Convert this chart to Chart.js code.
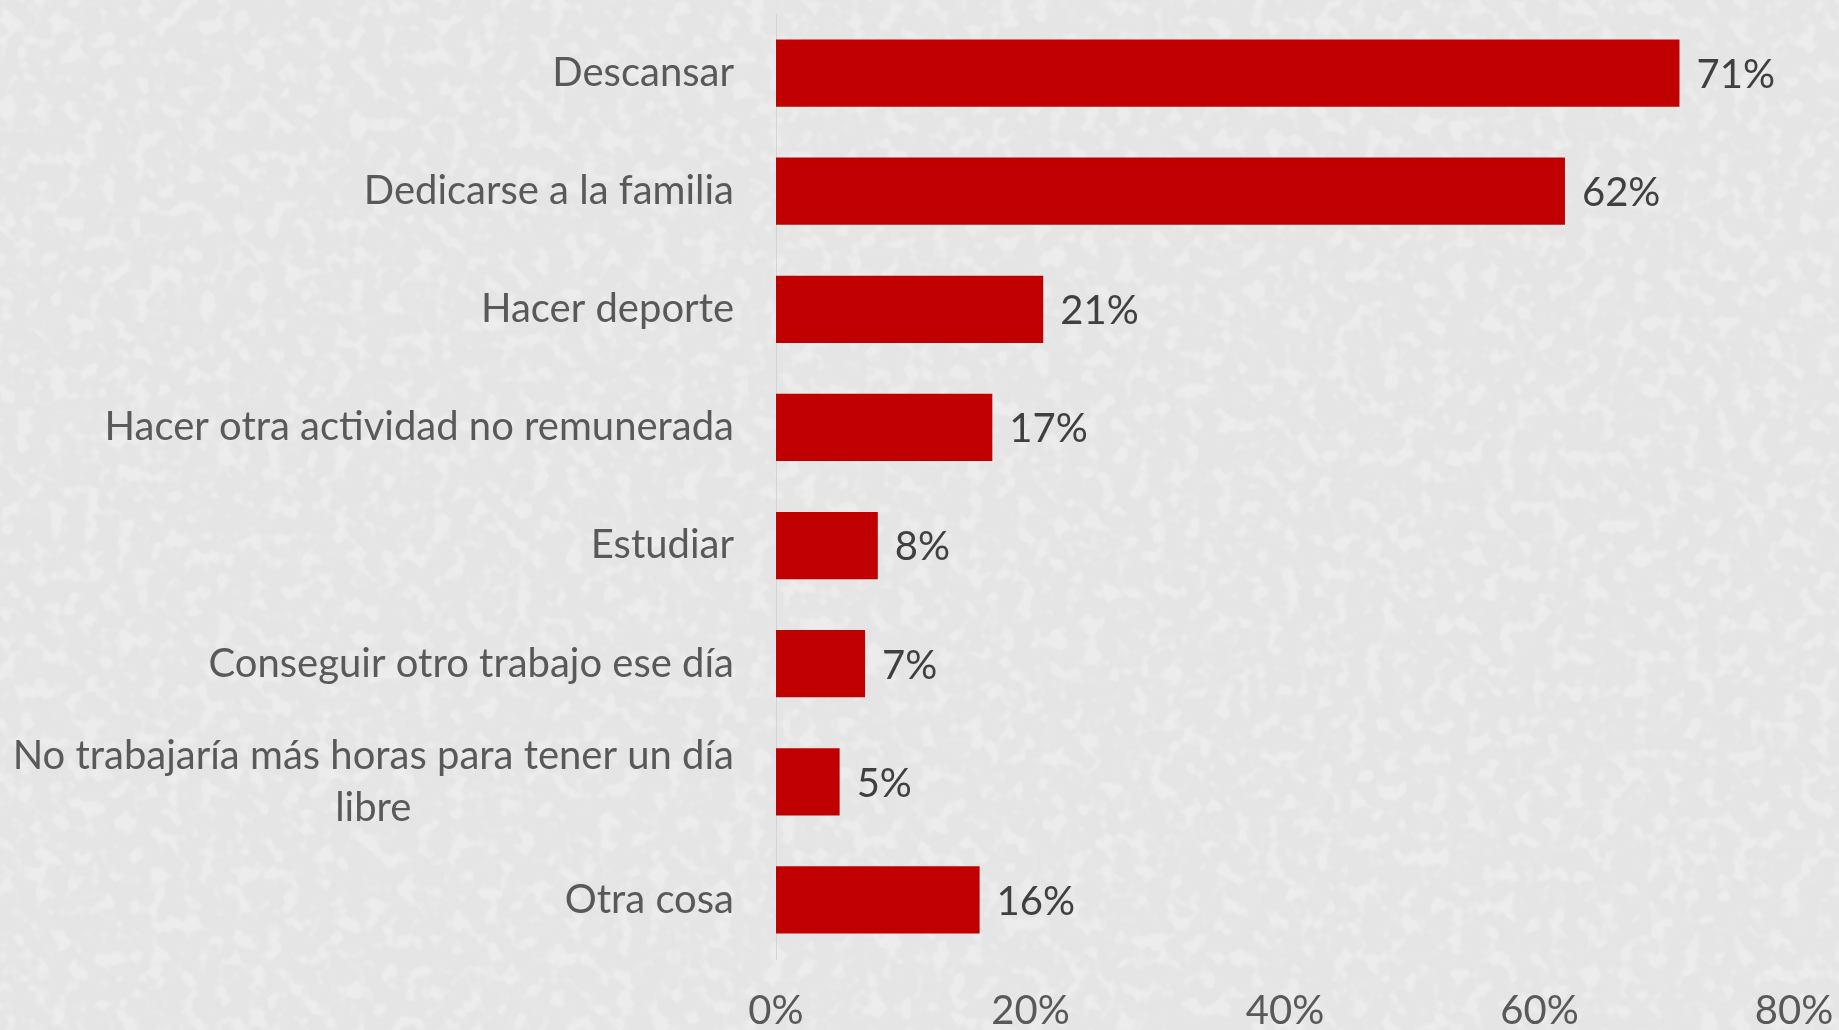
<!DOCTYPE html>
<html>
<head>
<meta charset="utf-8">
<script src="https://cdn.jsdelivr.net/npm/chart.js@4.4.0/dist/chart.umd.min.js"></script>
<style>
  html, body { margin: 0; padding: 0; }
  body {
    background-color: #e5e5e5;
    background-image: url("data:image/svg+xml,%3Csvg xmlns='http://www.w3.org/2000/svg' width='1839' height='1030'%3E%3Cfilter id='n'%3E%3CfeTurbulence type='fractalNoise' baseFrequency='0.06' numOctaves='2' seed='3'/%3E%3CfeColorMatrix values='0 0 0 0 1 0 0 0 0 1 0 0 0 0 1 5 0 0 0 -2.5'/%3E%3C/filter%3E%3Crect width='100%25' height='100%25' filter='url(%23n)' opacity='0.3'/%3E%3C/svg%3E");
  }
  #wrap { width: 1839px; height: 1030px; }
</style>
</head>
<body>
<div id="wrap"><canvas id="chart" width="1839" height="1030"></canvas></div>
<script>
// data
var categories = [
    'Descansar',
    'Dedicarse a la familia',
    'Hacer deporte',
    'Hacer otra actividad no remunerada',
    'Estudiar',
    'Conseguir otro trabajo ese día',
    ['No trabajaría más horas para tener un día', 'libre'],
    'Otra cosa'
];
var percentages = [71, 62, 21, 17, 8, 7, 5, 16];
var xTicks = [0, 20, 40, 60, 80];

var FONT = 'Lato, "Open Sans", sans-serif';

// category labels: right aligned, multi-line ones centred on their widest line
var categoryLabels = {
    id: 'categoryLabels',
    afterDraw: function (chart) {
        var ctx = chart.ctx;
        var yScale = chart.scales.y;
        var right = chart.chartArea.left - 42;
        ctx.save();
        ctx.font = '40px ' + FONT;
        ctx.fillStyle = '#595959';
        ctx.textBaseline = 'middle';
        categories.forEach(function (lab, i) {
            var y = yScale.getPixelForTick(i);
            var lines = Array.isArray(lab) ? lab : [lab];
            var lh = 52;
            if (lines.length === 1) {
                ctx.textAlign = 'right';
                ctx.fillText(lines[0], right, y);
            } else {
                var w = 0;
                lines.forEach(function (l) { w = Math.max(w, ctx.measureText(l).width); });
                ctx.textAlign = 'center';
                var y0 = y - (lines.length - 1) * lh / 2;
                lines.forEach(function (l, k) { ctx.fillText(l, right - w / 2, y0 + k * lh); });
            }
        });
        ctx.restore();
    }
};

// value labels at the end of each bar
var valueLabels = {
    id: 'valueLabels',
    afterDatasetsDraw: function (chart) {
        var ctx = chart.ctx;
        var meta = chart.getDatasetMeta(0);
        ctx.save();
        ctx.font = '40px ' + FONT;
        ctx.fillStyle = '#404040';
        ctx.textAlign = 'left';
        ctx.textBaseline = 'middle';
        meta.data.forEach(function (bar, i) {
            ctx.fillText(percentages[i] + '%', bar.x + 17, bar.y + 2);
        });
        ctx.restore();
    }
};

new Chart(document.getElementById('chart'), {
    type: 'bar',
    data: {
        labels: categories,
        datasets: [{
            data: percentages,
            backgroundColor: '#c00000',
            borderWidth: 0,
            barPercentage: 0.57,
            categoryPercentage: 1
        }]
    },
    options: {
        indexAxis: 'y',
        responsive: false,
        animation: false,
        layout: { padding: { top: 14, right: 45, left: 0, bottom: 0 } },
        plugins: {
            legend: { display: false },
            tooltip: { enabled: false }
        },
        scales: {
            x: {
                min: 0,
                max: 80,
                afterBuildTicks: function (scale) {
                    scale.ticks = xTicks.map(function (v) { return { value: v }; });
                },
                grid: { display: false, drawTicks: false },
                border: { display: false },
                ticks: {
                    padding: 28,
                    color: '#595959',
                    font: { family: FONT, size: 40 },
                    callback: function (v) { return v + '%'; }
                },
                afterFit: function (scale) {
                    scale.height = 71;
                    scale.paddingLeft = 0;
                    scale.paddingRight = 0;
                }
            },
            y: {
                grid: { display: false, drawTicks: false },
                border: { display: true, color: '#d4d4d4', width: 1 },
                ticks: { display: false },
                afterFit: function (scale) { scale.width = 776; }
            }
        }
    },
    plugins: [categoryLabels, valueLabels]
});
</script>
</body>
</html>
